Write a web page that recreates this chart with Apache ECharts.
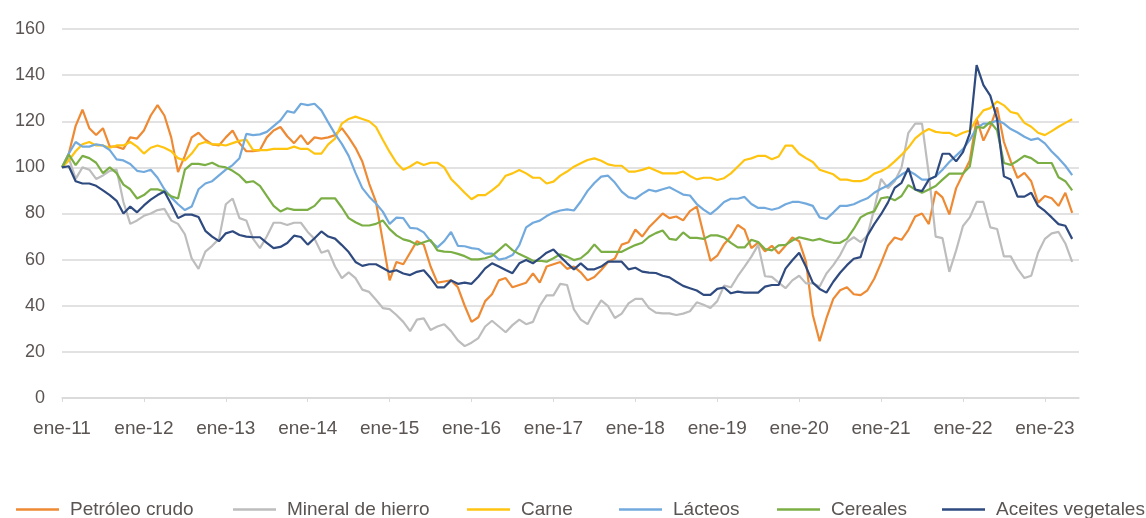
<!DOCTYPE html>
<html>
<head>
<meta charset="UTF-8">
<title>Precios de materias primas</title>
<script type="text/javascript" src="https://cdn.jsdelivr.net/npm/echarts@6/dist/echarts.min.js"></script>
<style>
  body{margin:0;background:#fff}
</style>
</head>
<body>
<div id="main" style="width:1146px;height:518px"></div>
<script type="text/javascript">
// meses ene-11 .. may-23 (149 puntos), mas un hueco al final
var years = ['11','12','13','14','15','16','17','18','19','20','21','22','23'];
var months = ['ene','feb','mar','abr','may','jun','jul','ago','sep','oct','nov','dic'];
var yTicks = [0, 20, 40, 60, 80, 100, 120, 140, 160];

var petroleo = [100,106,118,125,117,114,117,109,109,108,
  113,112.5,116,122.5,127,122.5,113,98,105,113,
  115,112,110,109.5,113,116,110.5,107,107,107.5,
  113,116,117.5,113.5,110.5,114,110,113,112.5,113,
  114,117,113,108.5,102.5,93,85,68,51,59,
  58,63,68,66.5,57,50,50.5,51,48,40,
  33,35,42,45,51,52,48,49,50,54,
  50,57,58,59,56,57,54.5,51,52.5,55.5,
  59,60.5,66.5,67.5,73,70,74,77,80,78,
  78.7,77,81,83,71,59.5,61.7,66.7,70,75,
  73,65,67.4,63.6,66,62.7,66,69.6,68,59,
  36,24.6,34.6,43,46.7,48,45,44.6,46.7,51.7,
  58.6,66,69.6,68.6,72.8,78.7,80,75.4,89.6,87,
  79.6,91,97,103,121,111.6,117.7,126,111,102.6,
  95.4,97.6,94,84.7,87.6,86.6,83.3,89,80.3];

var mineral = [100,104,95,100,99,95,96.5,98.5,99,85,
  75.5,77,79,80,81.5,82,77,75.5,71,60.5,
  56,63.5,66,69,84,86.5,78,77,69,65,
  70,76,76,75,76,76,72,69,63,64,
  57,52,54.5,52,47,46,42.6,39,38.5,36,
  33,29,34,34.5,29.5,31,32,29,25,22.5,
  24,26,31,33.5,31,28.5,31.6,34,32,33,
  40,44.5,44.5,49.5,49,38.4,34,32,37.6,42.3,
  39.8,34.7,36.6,41,43,43,39,37,36.7,36.7,
  36,36.6,37.6,41.5,40.4,39,42,48.7,48,52.8,
  57,61.3,66.4,52.8,52.5,50,47.6,51,53,49.7,
  49.7,48.3,54,57.6,62,67.6,69.7,67.6,70.4,82,
  95,91,94,100,115,119,119,97,70,69.3,
  54.7,64,74.6,78.3,85,85,74,73.3,61.4,61.4,
  56,52,53,63,69,71.4,72,67,59];

var carne = [100,103,107,110,111,109.5,109.5,108.5,109.5,109.5,
  111,109,106,108.5,109.5,108.5,107,104,103,106,
  110,111,110,110,109.5,110.5,111.5,112,107.5,107.5,
  107.5,108,108,108,109,108,108,106,106,110,
  112.5,119,121,122,121,120,117.5,112,106.7,102,
  99,100.4,102.3,101,102,102,100,95,92,89,
  86.2,88,88,90,92.4,96.4,97.4,98.9,97.4,95.5,
  95.5,93,93.8,96.4,98.2,100.3,101.8,103.2,103.9,102.9,
  101.3,100.7,100.7,98.2,98.2,98.9,99.9,98.6,97.4,97.4,
  97.4,98.2,96.3,94.8,95.5,95.5,94.5,95.3,97.4,100.3,
  103.2,103.9,105,105,103.5,104.7,109.4,109.4,105.9,104,
  102.3,99,98,97,94.7,94.7,94,94,95,97.3,
  98.3,100,102.6,105.4,108.6,112.6,115,116.6,115.4,115,
  115,113.6,115,116,121,124.7,125.7,128.6,126.9,124,
  123.3,119.3,117.6,115,114,115.7,117.6,119.3,120.9];

var lacteos = [100,106,111,109,109,110,109.5,107.5,103.5,103,
  101.5,98.5,98,99,95.5,90.5,87,84,81.5,83,
  90.5,93,94,96.5,99,101,104,114.5,114,114.3,
  115.4,117.9,120.4,124.4,123.7,127.6,127,127.6,124.7,119.5,
  114.5,110.2,105,97.6,91,87.3,84.3,80.8,75.5,78.2,
  78,73.8,73.5,71.8,68,65.3,68,72,66,65.8,
  65,64.6,62.6,62.6,60,60.6,62,66.3,74,76,
  76.9,78.9,80.4,81.3,81.8,81.3,85.2,89.8,93.2,96,
  96.4,93.4,89.5,87.1,86.4,88.5,90.3,89.6,90.5,91.4,
  89.8,88.2,87.8,84.1,81.7,79.7,82.1,85,86.4,86.4,
  87.2,84.1,82.4,82.4,81.6,82.4,84,85,85,84.3,
  83.3,78.3,77.6,80.4,83.3,83.3,84,85.4,86.6,89,
  90.7,92.1,94.7,96.9,98.6,96.9,94.7,94.7,96.1,99,
  102.3,105.1,107.9,111.9,117.1,119,119,120.4,119,116.6,
  115.1,113.3,111.9,112.6,110.4,106.9,104,100.7,96.6];

var cereales = [100,105.5,101,105,104,102,97.5,100,97.5,92.5,
  90.5,86.5,88,90.5,90.5,89.5,87.5,86.5,99,101.5,
  101.5,101,102,100.5,100,98.5,96.5,93.5,94,92,
  87.6,83.3,80.9,82.3,81.6,81.6,81.6,83.3,86.6,86.6,
  86.6,82.6,78,76.2,74.8,74.8,75.5,77,73.2,70.5,
  68.8,68,66.5,67.5,68.5,64,63.5,63.3,62.5,61.5,
  60.1,60.1,60.6,61.6,64.1,66.8,64.1,62.4,61,59.5,
  59.5,59.1,60.6,62.3,61.3,59.8,60.6,63,66.6,63.4,
  63.4,63.4,63.4,64.9,66.3,67.3,69.9,71.5,72.6,69,
  68.6,71.8,69.4,69.4,69,70.5,70.5,69.6,67.3,65.3,
  65.3,68.6,67.6,64.6,64,66.2,66.4,68.3,69.7,69,
  68.3,69,68,67.3,67.3,69,73.3,78.3,80,80.9,
  86.6,87.1,85.7,87.6,92.3,90.4,89,90.4,91.9,94.7,
  97.3,97.3,97.3,100.4,117.6,117.1,119.7,116.1,101.9,101.1,
  102.9,105,104,101.9,101.9,101.9,95.7,94,90];

var aceites = [100,100.5,94,93,93,92,90,88,85.5,80,
  83,80.5,83.5,86,88,89.5,84,78,79.5,79.5,
  78.5,72.5,70,68,71.4,72.3,70.7,70,69.7,69.7,
  67.3,65,65.5,67.2,70.4,69.8,66.5,69.3,72.2,70,
  69.1,66.3,63.3,59,57.3,58,58,56.4,54.7,55.4,
  54,53.3,54.7,55.4,52,48,48,51,49.5,50,
  49.5,52.6,56.2,58.4,57,55.5,54.1,58.4,59.8,58.4,
  60.6,63,64.4,61.3,58.4,55.8,58.4,55.8,55.8,57,
  59.1,59.1,59.1,55.8,56.5,54.8,54.4,54.2,53,52.3,
  50.4,48.6,47.6,46.6,44.7,44.7,47.3,47.9,45.4,46.1,
  45.7,45.7,45.7,48.3,49,49,56.1,59.7,63,56.9,
  50,47.3,45.7,50.4,54.3,57.6,60.4,61.1,70.4,75.4,
  79.7,84.7,91.1,93.3,99.7,90.4,89.7,94.7,96.1,105.9,
  105.9,102.6,106.6,114.7,144.3,135.7,131.1,121,96.1,94.7,
  87.3,87.3,89,83.3,81.1,78.3,75.4,74.7,69];

var seriesNames = ['Petróleo crudo','Mineral de hierro','Carne','Lácteos','Cereales','Aceites vegetales'];
var seriesData = [petroleo, mineral, carne, lacteos, cereales, aceites];
var colors = ['#EE8A33','#BDBDBD','#FFC410','#72AADE','#7BAF45','#2E4A7F'];
var legendLeft = [11, 228, 462, 614, 772, 937];

var categories = [];
for (var y = 0; y < years.length; y++) {
  for (var m = 0; m < 12; m++) {
    categories.push(months[m] + '-' + years[y]);
  }
}
categories = categories.slice(0, petroleo.length + 1);

var textColor = '#5A5452';
var fontFam = "'Liberation Sans', Arial, sans-serif";

var myChart = echarts.init(document.getElementById('main'));

var legends = seriesNames.map(function(name, i) {
  return {
    data: [name],
    left: legendLeft[i],
    top: 495,
    icon: 'rect',
    itemWidth: 43,
    itemHeight: 2.5,
    textStyle: {
      color: textColor,
      fontSize: 19,
      fontFamily: fontFam,
      padding: [0, 0, 0, 6]
    }
  };
});

var series = seriesNames.map(function(name, i) {
  return {
    name: name,
    type: 'line',
    data: seriesData[i],
    showSymbol: false,
    symbol: 'none',
    color: colors[i],
    lineStyle: { width: 2.2, color: colors[i] },
    animation: false
  };
});

var option = {
  animation: false,
  color: colors,
  grid: { left: 62, right: 67, top: 29, bottom: 120, containLabel: false },
  legend: legends,
  xAxis: {
    type: 'category',
    data: categories,
    boundaryGap: false,
    axisLine: { lineStyle: { color: '#D9D9D9', width: 1.5 } },
    axisTick: {
      show: true,
      length: 4,
      interval: function(idx) { return idx % 12 === 0; },
      lineStyle: { color: '#D9D9D9' }
    },
    axisLabel: {
      interval: function(idx) { return idx % 12 === 0; },
      color: textColor,
      fontSize: 19,
      fontFamily: fontFam,
      margin: 21
    },
    splitLine: { show: false }
  },
  yAxis: {
    type: 'value',
    min: yTicks[0],
    max: yTicks[yTicks.length - 1],
    interval: 20,
    axisLine: { show: false },
    axisTick: { show: false },
    axisLabel: {
      color: textColor,
      fontSize: 18,
      fontFamily: fontFam,
      margin: 17
    },
    splitLine: { lineStyle: { color: '#D9D9D9', width: 1.5 } }
  },
  series: series
};

myChart.setOption(option);
</script>
</body>
</html>
